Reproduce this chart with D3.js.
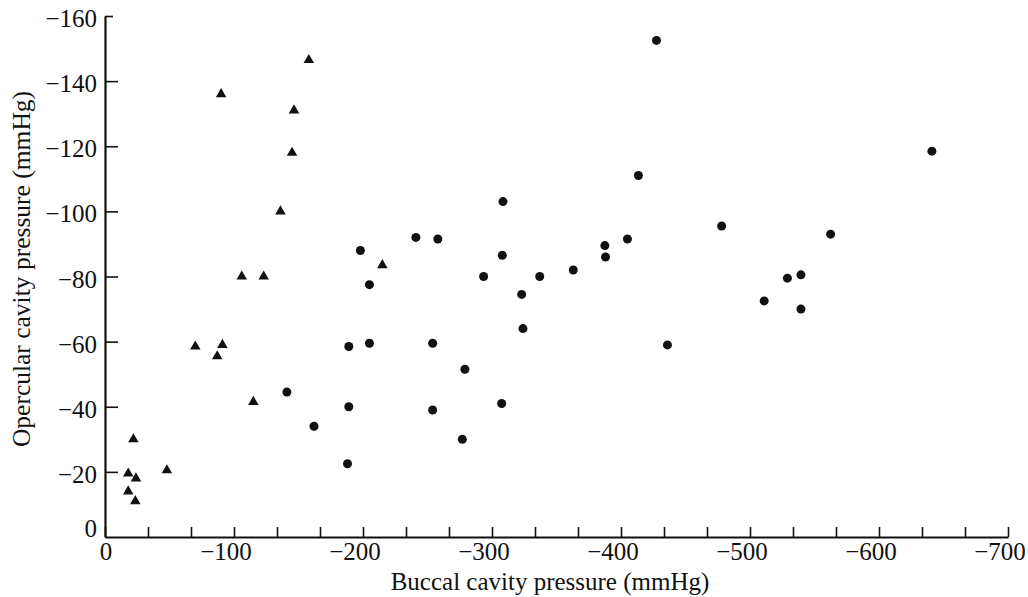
<!DOCTYPE html>
<html>
<head>
<meta charset="utf-8">
<title>Buccal vs opercular cavity pressure</title>
<script src="https://cdnjs.cloudflare.com/ajax/libs/d3/7.8.5/d3.min.js"></script>
<style>
  body { margin: 0; background: #fff; }
  svg text { font-family: "Liberation Serif", "Times New Roman", serif; fill: #111; }
</style>
</head>
<body>
<svg id="chart" width="1028" height="597"></svg>
<script>
// triangles (buccal, opercular) in mmHg
var triX = [-22, -18, -24, -18, -23.5, -48, -70, -87, -91, -115, -106, -123, -136, -145, -146.5, -158, -90, -215];
var triY = [-30, -19.5, -18, -14, -11, -20.5, -58.5, -55.5, -59, -41.5, -80, -80, -100, -118, -131, -146.5, -136, -83.5];

// circles
var dotX = [-141, -162, -188, -189, -189, -198, -205, -205, -241, -254, -254, -258, -279, -277, -293.5,
            -307.5, -308.5, -308, -323, -324, -337, -363, -387.5, -388, -405, -413.5, -427.5, -436,
            -478, -511, -529, -539.5, -539.5, -562.5, -641];
var dotY = [-44.5, -34, -22.5, -40, -58.5, -88, -77.5, -59.5, -92, -59.5, -39, -91.5, -51.5, -30, -80,
            -41, -103, -86.5, -74.5, -64, -80, -82, -89.5, -86, -91.5, -111, -152.5, -59,
            -95.5, -72.5, -79.5, -80.5, -70, -93, -118.5];

var xLabels = [0, -100, -200, -300, -400, -500, -600, -700];
var yTicks = [0, -20, -40, -60, -80, -100, -120, -140, -160];
var xTitle = "Buccal cavity pressure (mmHg)";
var yTitle = "Opercular cavity pressure (mmHg)";

var svg = d3.select("#chart");

var x = d3.scaleLinear().domain([0, -700]).range([105, 1008]);
var y = d3.scaleLinear().domain([0, -160]).range([537, 16]);

function fmt(v) { return v === 0 ? "0" : "\u2212" + Math.abs(v); }

// x axis: minor ticks every 100/3, labels each 100
var xTickVals = d3.range(0, 22).map(function(i) { return -i * 100 / 3; });
var xAxis = svg.append("g")
    .attr("transform", "translate(0," + y(0) + ")")
    .call(d3.axisBottom(x).tickValues(xTickVals).tickSizeInner(-10).tickSizeOuter(0).tickFormat(""));

xAxis.select(".domain").attr("stroke", "#111").attr("stroke-width", 2.2);
xAxis.selectAll(".tick line").attr("stroke", "#111").attr("stroke-width", 1.6);

svg.append("g").selectAll("text")
    .data(xLabels)
    .enter().append("text")
    .attr("x", function(d) { return x(d) + (d === 0 ? 1 : -8); })
    .attr("y", 560)
    .attr("text-anchor", "middle")
    .attr("font-size", 25)
    .text(fmt);

// y axis
var yAxis = svg.append("g")
    .attr("transform", "translate(" + x(0) + ",0)")
    .call(d3.axisLeft(y).tickValues(yTicks).tickSizeInner(-13).tickSizeOuter(0).tickFormat(""));

yAxis.select(".domain").attr("stroke", "#111").attr("stroke-width", 2.2);
yAxis.selectAll(".tick line")
    .attr("stroke", "#111").attr("stroke-width", 1.6)
    .attr("x2", function(d) { return d === -160 ? 8 : (d === 0 ? 0 : 13); });

svg.append("g").selectAll("text")
    .data(yTicks)
    .enter().append("text")
    .attr("x", 97)
    .attr("y", function(d) { return d === 0 ? y(d) : y(d) + 11; })
    .attr("text-anchor", "end")
    .attr("font-size", 25)
    .text(fmt);

// titles
svg.append("text")
    .attr("x", 550)
    .attr("y", 590)
    .attr("text-anchor", "middle")
    .attr("font-size", 25)
    .text(xTitle);

svg.append("text")
    .attr("transform", "translate(30,269) rotate(-90)")
    .attr("text-anchor", "middle")
    .attr("font-size", 25.5)
    .text(yTitle);

// marks
var tri = d3.symbol().type(d3.symbolTriangle).size(48);

svg.append("g").selectAll("path")
    .data(d3.range(triX.length))
    .enter().append("path")
    .attr("d", tri)
    .attr("transform", function(i) { return "translate(" + x(triX[i]) + "," + y(triY[i]) + ")"; })
    .attr("fill", "#111");

svg.append("g").selectAll("circle")
    .data(d3.range(dotX.length))
    .enter().append("circle")
    .attr("cx", function(i) { return x(dotX[i]); })
    .attr("cy", function(i) { return y(dotY[i]); })
    .attr("r", 4.5)
    .attr("fill", "#111");
</script>
</body>
</html>
